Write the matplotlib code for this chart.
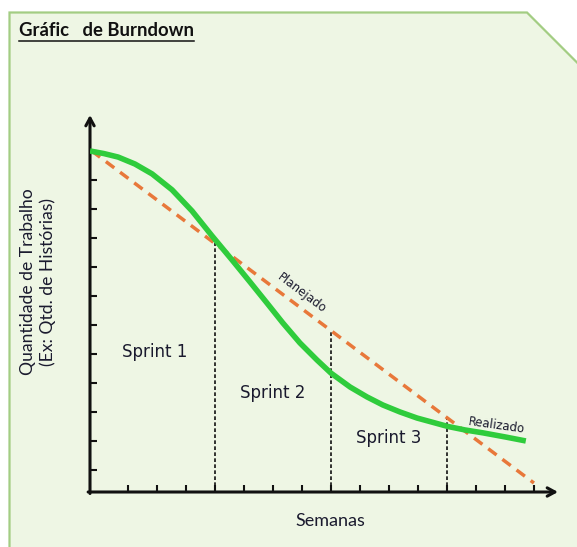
import matplotlib
matplotlib.use("Agg")
import matplotlib.pyplot as plt
from matplotlib.patches import Polygon
from matplotlib.lines import Line2D
import numpy as np

# ---- data (weeks / work units) ----
weeks_ticks = list(range(1, 16))
work_ticks = list(range(1, 13))
planned_x = [-0.25, 15.0]
planned_y = [12.0, 0.55]
actual_x = [-0.31, 0.17, 0.66, 1.24, 1.83, 2.52, 3.21, 3.90, 4.59, 5.21, 5.79,
            6.34, 6.93, 7.52, 8.0, 8.66, 9.24, 9.79, 10.38, 10.97, 11.52,
            12.03, 12.62, 13.24, 14.0, 14.72]
actual_y = [12.0, 11.91, 11.79, 11.55, 11.21, 10.66, 9.93, 9.07, 8.24, 7.48,
            6.76, 6.07, 5.38, 4.79, 4.34, 3.86, 3.52, 3.24, 3.0, 2.79, 2.64,
            2.5, 2.38, 2.28, 2.14, 2.0]
sprint_ends = [4, 8, 12]
sprint_labels = ["Sprint 1", "Sprint 2", "Sprint 3"]
sprint_label_pos = [(1.93, 5.07), (6.0, 3.66), (10.0, 2.1)]

W, H = 577, 547
fig = plt.figure(figsize=(W / 100, H / 100), dpi=100)
fig.patch.set_facecolor("white")

def fx(px):
    return px / W

def fy(py):
    return 1 - py / H

# panel background with cut corner
panel = Polygon([(fx(9.5), fy(560)), (fx(9.5), fy(12.5)), (fx(527), fy(12.5)),
                 (fx(582), fy(67.5)), (fx(582), fy(560))],
                closed=True, transform=fig.transFigure,
                facecolor="#eef6e4", edgecolor="#a3cd83", lw=1.6, zorder=-10)
fig.patches.append(panel)

ax = fig.add_axes([fx(90), 1 - 492 / H, (558 - 90) / W, (492 - 115) / H])
ax.set_zorder(5)
ax.set_facecolor("none")
ax.set_xlim(-0.31, 15.83)
ax.set_ylim(0.24, 13.24)
for s in ax.spines.values():
    s.set_visible(False)

ax.set_xticks(weeks_ticks)
ax.set_yticks(work_ticks)
ax.tick_params(direction="in", length=5, width=1.5, color="#111111",
               labelbottom=False, labelleft=False)

# axes with arrows
arrow_kw = dict(arrowstyle="->,head_length=0.55,head_width=0.3", lw=2.2,
                color="#111111", shrinkA=0, shrinkB=0)
ax.annotate("", xy=(1, 0), xytext=(-0.004, 0), xycoords="axes fraction",
            arrowprops=arrow_kw)
ax.annotate("", xy=(0, 1), xytext=(0, -0.004), xycoords="axes fraction",
            arrowprops=arrow_kw)

# planned line
ax.plot(planned_x, planned_y, color="#e8783a", lw=2.5, dashes=(3.0, 2.1),
        solid_capstyle="butt", zorder=3)
# actual line
ax.plot(actual_x, actual_y, color="#2fcc3c", lw=4.0, solid_capstyle="butt",
        solid_joinstyle="round", zorder=4)

# sprint boundaries
for xe in sprint_ends:
    ytop = float(np.interp(xe, planned_x, planned_y))
    ax.plot([xe, xe], [0.24, ytop], color="#111111", lw=1.2, dashes=(2.2, 1.4),
            zorder=2)

for lab, (lx, ly) in zip(sprint_labels, sprint_label_pos):
    ax.text(lx, ly, lab, ha="center", va="center", fontsize=12,
            family="DejaVu Sans", color="#1a1a2e")

ax.text(7.0, 7.1, "Planejado", rotation=-37, ha="center",
        va="center", fontsize=8.5, family="DejaVu Sans", color="#1a1a2e",
        rotation_mode="anchor")
ax.text(13.72, 2.55, "Realizado", rotation=-8, ha="center", va="center",
        fontsize=8.5, family="DejaVu Sans", color="#1a1a2e",
        rotation_mode="anchor")

# axis labels
fig.text(fx(28), fy(282), "Quantidade de Trabalho", rotation=90, ha="center",
         va="center", fontsize=12.6, family="Lato", color="#1a1a2e")
fig.text(fx(48), fy(282), "(Ex: Qtd. de Histórias)", rotation=90, ha="center",
         va="center", fontsize=12.6, family="Lato", color="#1a1a2e")
fig.text(fx(330), fy(521), "Semanas", ha="center", va="center", fontsize=13,
         family="Lato", color="#1a1a2e")

# title with underline
title = fig.text(fx(19), fy(31), "Gráfic   de Burndown", ha="left",
                 va="center", fontsize=13.3, fontweight="bold", family="Lato",
                 color="#111111")
fig.canvas.draw()
bb = title.get_window_extent()
fig.add_artist(Line2D([bb.x0 / W, bb.x1 / W], [fy(40.5), fy(40.5)],
                      transform=fig.transFigure, color="#111111", lw=1.1))

fig.savefig("out.png", dpi=100, facecolor="white")
